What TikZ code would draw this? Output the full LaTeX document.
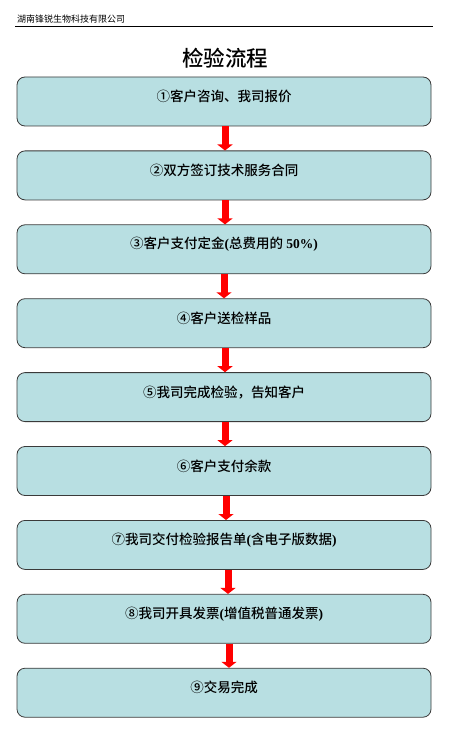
\documentclass[tikz,border=0pt]{standalone}
\usepackage{fontspec}
\setmainfont{Liberation Serif}
\newfontfamily\cjk{Noto Sans CJK SC}[BoldFont={Noto Sans CJK SC Medium}]
\newcommand{\lat}[1]{{\rmfamily\bfseries #1}}
\usetikzlibrary{arrows.meta}
\definecolor{boxfill}{HTML}{B8DFE2}
\definecolor{boxline}{HTML}{3A3A3A}
\definecolor{arrred}{HTML}{FF0000}
\tikzset{
  stepbox/.style={draw=boxline, line width=0.8pt, fill=boxfill, rounded corners=8pt,
    minimum width=414pt, minimum height=49pt, inner sep=0pt},
  steptext/.style={font=\cjk\bfseries\fontsize{13.5}{15}\selectfont, inner sep=0pt, anchor=center},
  flowarrow/.style={draw=arrred, line width=7pt, -{Triangle[width=15pt,length=6pt]}, arrred}
}
\begin{document}
\begin{tikzpicture}[x=1pt,y=-1pt]
\useasboundingbox (0,0) rectangle (470,738);
% header
\node[anchor=west, font=\cjk\fontsize{9}{10}\selectfont, inner sep=0pt] (hdr) at (17,19) {湖南锋锐生物科技有限公司};
\coordinate (hl) at (15,26.5);
\coordinate (hr) at (433,26.5);
\draw[line width=0.7pt] (hl) -- (hr);
\node[font=\cjk\bfseries\fontsize{21.5}{24}\selectfont, inner sep=0pt] (title) at (225,58) {检验流程};
% boxes
\foreach \i/\t in {1/{①客户咨询、我司报价},
                   2/{②双方签订技术服务合同},
                   3/{③客户支付定金\lat{(}总费用的 \lat{50\%)}},
                   4/{④客户送检样品},
                   5/{⑤我司完成检验，告知客户},
                   6/{⑥客户支付余款},
                   7/{⑦我司交付检验报告单\lat{(}含电子版数据\lat{)}},
                   8/{⑧我司开具发票\lat{(}增值税普通发票\lat{)}},
                   9/{⑨交易完成}}{
  \pgfmathsetmacro{\yc}{101.5+73.9*(\i-1)}
  \node[stepbox] (b\i) at (224,\yc) {};
  \node[steptext] (t\i) at ([yshift=-20pt]b\i.north) {\t};
}
% arrows
\foreach \a/\b/\dx in {1/2/1, 2/3/1, 3/4/0, 4/5/1, 5/6/1, 6/7/2, 7/8/4, 8/9/5}{
  \draw[flowarrow] ([xshift=\dx pt]b\a.south) -- ([xshift=\dx pt]b\b.north);
}
\end{tikzpicture}
\end{document}
